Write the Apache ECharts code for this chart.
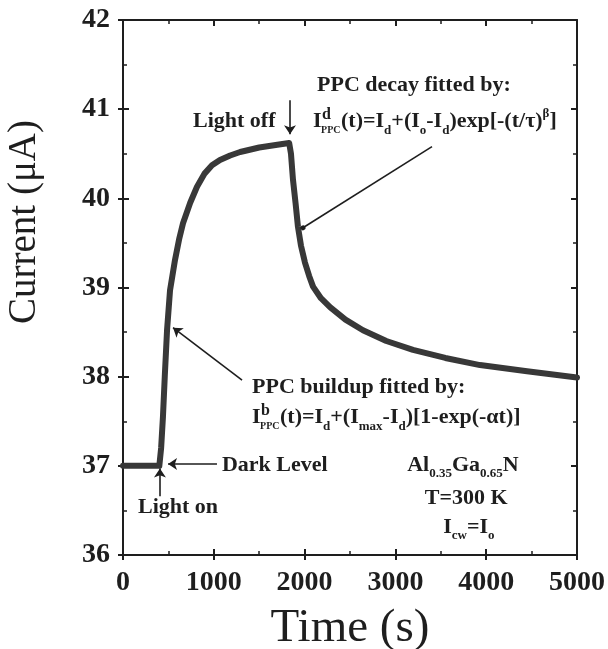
<!DOCTYPE html>
<html><head><meta charset="utf-8">
<script src="https://cdn.jsdelivr.net/npm/echarts@6/dist/echarts.min.js"></script>
<style>html,body{margin:0;padding:0;background:#fff}#c{width:608px;height:649px}</style>
</head><body><div id="c"></div>
<script>
// ---- data ----
const timeS = [0, 200, 400, 420, 440, 460, 485, 518, 573, 620, 661, 740, 815, 900, 980, 1068, 1180, 1290, 1500, 1700, 1830,
  1850, 1872, 1900, 1927, 1960, 2004, 2050, 2093, 2180, 2280, 2450, 2643, 2900, 3194, 3550, 3932, 4450, 5000];
const currentUA = [37.0, 37.0, 37.0, 37.2, 37.55, 38.0, 38.52, 38.97, 39.31, 39.55, 39.72, 39.95, 40.13, 40.28, 40.37, 40.43, 40.48, 40.52, 40.57, 40.6, 40.62,
  40.5, 40.21, 39.95, 39.68, 39.47, 39.28, 39.13, 39.01, 38.88, 38.78, 38.64, 38.52, 38.40, 38.30, 38.21, 38.13, 38.06, 37.99];
const xTickLabels = ['0', '1000', '2000', '3000', '4000', '5000'];
const yTickLabels = ['36', '37', '38', '39', '40', '41', '42'];

const FONT = '"Liberation Serif", "Times New Roman", serif';
const INK = '#1e1e1e';
const chart = echarts.init(document.getElementById('c'));

function xAx(pos, showLine, tickInside, showLabel, extra) {
  return Object.assign({
    type: 'value', position: pos, min: 0, max: 5000, interval: 1000,
    axisLine: { show: showLine, onZero: false, lineStyle: { color: INK, width: 2 } },
    axisTick: { show: true, inside: tickInside, length: tickInside ? 6 : 5, lineStyle: { color: INK, width: 2 } },
    minorTick: { show: tickInside, splitNumber: 2, length: 4, lineStyle: { color: INK, width: 1.5 } },
    splitLine: { show: false },
    axisLabel: showLabel ? { fontFamily: FONT, fontSize: 28, fontWeight: 'bold', color: INK, margin: 14,
      hideOverlap: false, showMaxLabel: true, showMinLabel: true,
      formatter: v => xTickLabels[Math.round(v / 1000)] } : { show: false }
  }, extra || {});
}
function yAx(pos, showLine, tickInside, showLabel) {
  return {
    type: 'value', position: pos, min: 36, max: 42, interval: 1,
    axisLine: { show: showLine, onZero: false, lineStyle: { color: INK, width: 2 } },
    axisTick: { show: true, inside: tickInside, length: tickInside ? 6 : 5, lineStyle: { color: INK, width: 2 } },
    minorTick: { show: tickInside, splitNumber: 2, length: 4, lineStyle: { color: INK, width: 1.5 } },
    splitLine: { show: false },
    axisLabel: showLabel ? { fontFamily: FONT, fontSize: 28, fontWeight: 'bold', color: INK, margin: 13,
      showMaxLabel: true, showMinLabel: true,
      formatter: v => yTickLabels[Math.round(v - 36)] } : { show: false }
  };
}

const arrowLines = [
  [[1839, 41.1], [1839, 40.72], 'arrow'],   // light off
  [[3403, 40.58], [1982, 39.67], 'circle'], // decay pointer
  [[1311, 37.96], [551, 38.55], 'arrow'],   // buildup pointer
  [[1035, 37.02], [496, 37.02], 'arrow'],   // dark level
  [[407, 36.66], [407, 36.97], 'arrow']     // light on
];

const option = {
  animation: false,
  backgroundColor: '#fff',
  grid: { left: 123, right: 31, top: 20, bottom: 94, containLabel: false, outerBoundsMode: 'none' },
  xAxis: [
    xAx('bottom', true, false, true, { name: 'Time (s)', nameLocation: 'middle', nameGap: 50,
      nameTextStyle: { fontFamily: FONT, fontSize: 47, color: INK } }),
    xAx('bottom', false, true, false),
    xAx('top', true, true, false)
  ],
  yAxis: [yAx('left', true, false, true), yAx('left', false, true, false), yAx('right', true, true, false)],
  series: [{
    type: 'line', xAxisIndex: 0, yAxisIndex: 0,
    data: timeS.map((t, i) => [t, currentUA[i]]),
    showSymbol: false, smooth: false,
    lineStyle: { color: '#383838', width: 6, join: 'round', cap: 'round' },
    markLine: {
      silent: true, animation: false,
      label: { show: false },
      lineStyle: { color: INK, width: 1.6, type: 'solid' },
      data: arrowLines.map(a => [
        { coord: a[0], symbol: 'none' },
        { coord: a[1], symbol: a[2], symbolSize: a[2] === 'circle' ? 5 : 9 }
      ])
    }
  }]
};
chart.setOption(option);

// ---- annotations (placed in data coordinates) ----
const P = (t, v) => chart.convertToPixel({ seriesIndex: 0 }, [t, v]);
const base = { fontFamily: FONT, fontSize: 22, fontWeight: 'bold', fill: INK };
const rich = {
  sub: { fontFamily: FONT, fontSize: 13, fontWeight: 'bold', lineHeight: 13, verticalAlign: 'bottom', fill: INK },
  sup: { fontFamily: FONT, fontSize: 13, fontWeight: 'bold', lineHeight: 13, verticalAlign: 'top', fill: INK }
};
function txt(t, v, s, align, extra) {
  const p = P(t, v);
  return Object.assign({ type: 'text', x: p[0], y: p[1], silent: true,
    style: Object.assign({}, base, { text: s, align: align || 'left', verticalAlign: 'middle', lineHeight: 30, rich }) }, extra || {});
}
function formula(t, v, supChar, rest) {
  const p = P(t, v);
  return {
    type: 'group', x: p[0], y: p[1], silent: true,
    children: [
      { type: 'text', x: 0, y: 0, style: Object.assign({}, base, { text: 'I', verticalAlign: 'middle' }) },
      { type: 'text', x: 9, y: -7, style: { text: supChar, fontFamily: FONT, fontSize: 16, fontWeight: 'bold', fill: INK, verticalAlign: 'middle' } },
      { type: 'text', x: 8, y: 9, style: { text: 'PPC', fontFamily: FONT, fontSize: 10, fontWeight: 'bold', fill: INK, verticalAlign: 'middle' } },
      { type: 'text', x: 28, y: 0, style: Object.assign({}, base, { text: rest, verticalAlign: 'middle', lineHeight: 30, rich }) }
    ]
  };
}
chart.setOption({
  graphic: [
    { type: 'text', x: 25, y: 222, rotation: Math.PI / 2, silent: true,
      style: { text: 'Current (\u03BCA)', fontFamily: FONT, fontSize: 39, fill: INK, align: 'center', verticalAlign: 'middle' } },
    txt(771, 40.86, 'Light off'),
    txt(2137, 41.27, 'PPC decay fitted by:'),
    formula(2093, 40.86, 'd', '(t)=I{sub|d}+(I{sub|o}-I{sub|d})exp[-(t/\u03C4){sup|\u03B2}]'),
    txt(1421, 37.88, 'PPC buildup fitted by:'),
    formula(1421, 37.54, 'b', '(t)=I{sub|d}+(I{sub|max}-I{sub|d})[1-exp(-\u03B1t)]'),
    txt(1090, 37.01, 'Dark Level'),
    txt(165, 36.54, 'Light on'),
    txt(3744, 37.01, 'Al{sub|0.35}Ga{sub|0.65}N', 'center'),
    txt(3780, 36.64, 'T=300 K', 'center'),
    txt(3810, 36.31, 'I{sub|cw}=I{sub|o}', 'center')
  ]
});
</script>
</body></html>
